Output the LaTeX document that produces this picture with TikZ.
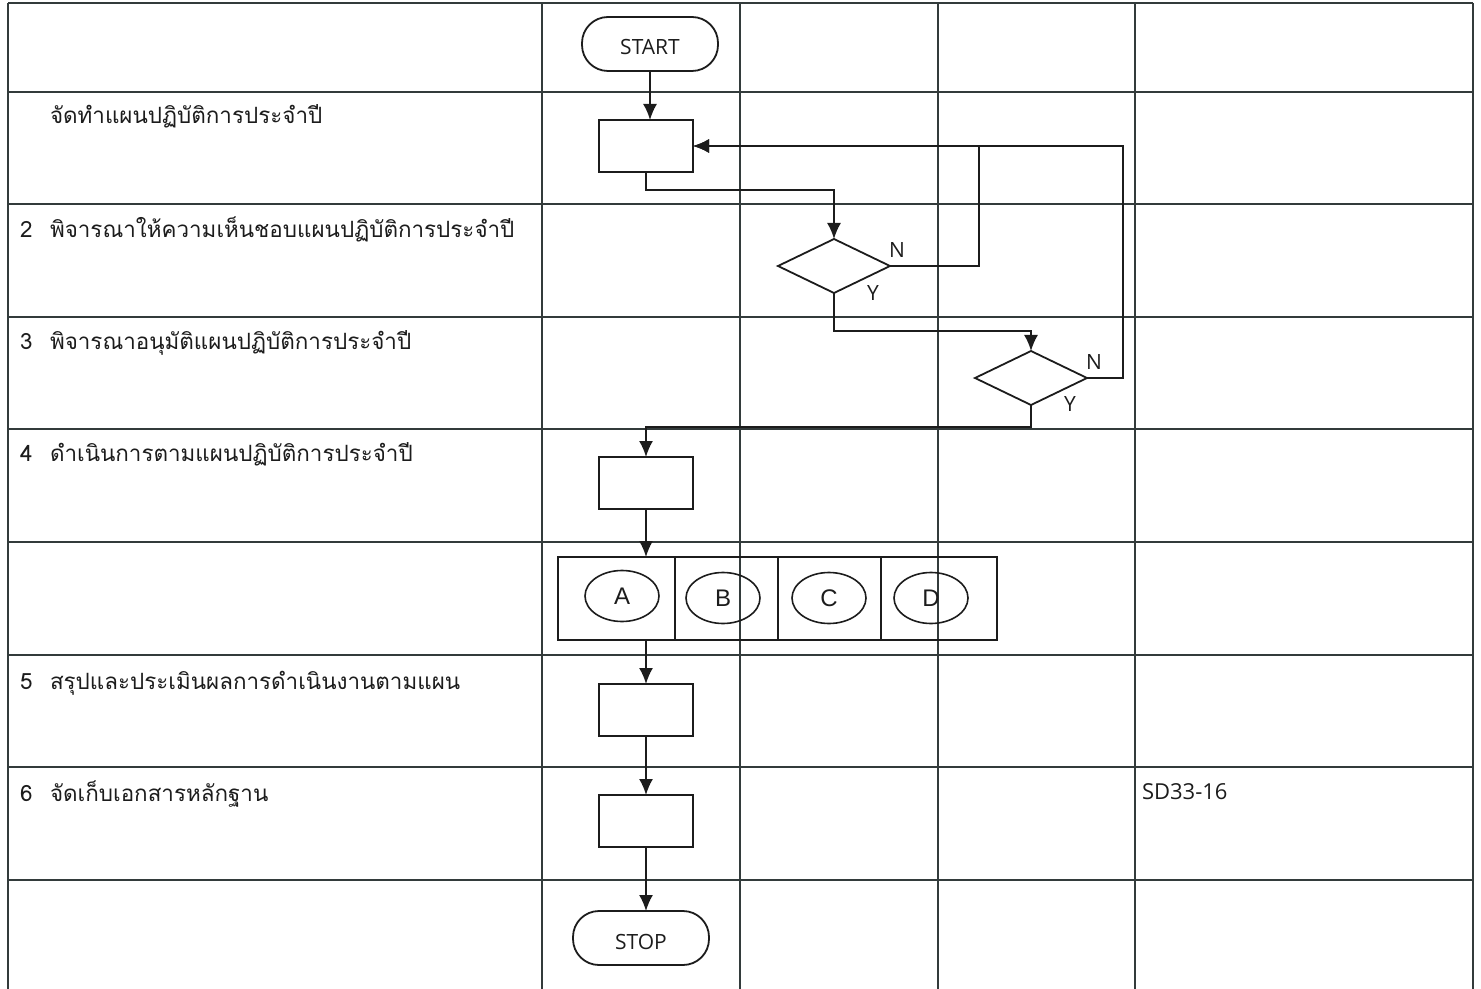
\documentclass[tikz,border=0pt]{standalone}
\usepackage{fontspec}
\setmainfont{Open Sans}
\newfontfamily\thaifont[Script=Thai]{Loma}
\newfontfamily\arialfont{Liberation Sans}
\usepackage{tikz}
\usetikzlibrary{arrows.meta,shapes.geometric}
\definecolor{inkgray}{HTML}{1C1C1C}
\definecolor{rulegray}{HTML}{333B3B}

\begin{document}
\begin{tikzpicture}[x=0.5pt, y=-0.5pt,
  every node/.style={inner sep=0pt, outer sep=0pt},
  proc/.style={draw=inkgray, line width=0.9pt, minimum width=47pt, minimum height=26pt},
  term/.style={draw=inkgray, line width=0.9pt, rounded corners=13pt, minimum width=68pt, minimum height=27pt, text height=11pt, text depth=0pt, font=\fontsize{10.5}{12}\selectfont, text=inkgray},
  decide/.style={draw=inkgray, line width=0.9pt, diamond, minimum width=56pt, minimum height=27pt},
  cell/.style={draw=inkgray, line width=0.9pt, minimum height=41.5pt},
  conn/.style={draw=inkgray, ellipse, line width=0.8pt, minimum width=37pt, minimum height=25.5pt, font=\arialfont\fontsize{12}{14}\selectfont, text=inkgray},
  steptext/.style={anchor=base west, font=\thaifont\fontsize{11.2}{13}\selectfont, text=inkgray},
  yn/.style={font=\fontsize{10.5}{12}\selectfont, text=inkgray},
  flow/.style={-{Latex[length=8pt,width=7pt]}, line width=0.9pt, draw=inkgray}]
\useasboundingbox (0,0) rectangle (1481,989);
% table frame
\draw[rulegray, line width=1.4pt] (8,3) -- (1473,3);
\draw[rulegray, line width=1pt] (8,3) -- (8,989);
\draw[rulegray, line width=1pt] (542,3) -- (542,989);
\draw[rulegray, line width=1pt] (740,3) -- (740,989);
\draw[rulegray, line width=1pt] (938,3) -- (938,989);
\draw[rulegray, line width=1pt] (1135,3) -- (1135,989);
\draw[rulegray, line width=1pt] (1473,3) -- (1473,989);
\draw[rulegray, line width=0.7pt] (8,92) -- (1473,92);
\draw[rulegray, line width=0.7pt] (8,204) -- (1473,204);
\draw[rulegray, line width=0.7pt] (8,317) -- (1473,317);
\draw[rulegray, line width=0.7pt] (8,429) -- (1473,429);
\draw[rulegray, line width=0.7pt] (8,542) -- (1473,542);
\draw[rulegray, line width=0.7pt] (8,655) -- (1473,655);
\draw[rulegray, line width=0.7pt] (8,767) -- (1473,767);
\draw[rulegray, line width=0.7pt] (8,880) -- (1473,880);

% steps
\node[steptext] (s1) at (50,124) {จัดทำแผนปฏิบัติการประจำปี};
\node[steptext] (n2) at (20,238) {2};
\node[steptext] (s2) at (50,238) {พิจารณาให้ความเห็นชอบแผนปฏิบัติการประจำปี};
\node[steptext] (n3) at (20,350) {3};
\node[steptext] (s3) at (50,350) {พิจารณาอนุมัติแผนปฏิบัติการประจำปี};
\node[steptext] (n4) at (20,461) {4};
\node[steptext] (s4) at (50,461) {ดำเนินการตามแผนปฏิบัติการประจำปี};
\node[steptext] (n5) at (20,689) {5};
\node[steptext] (s5) at (50,689) {สรุปและประเมินผลการดำเนินงานตามแผน};
\node[steptext] (n6) at (20,801) {6};
\node[steptext] (s6) at (50,801) {จัดเก็บเอกสารหลักฐาน};
\node[anchor=base west, font=\fontsize{11}{13}\selectfont, text=inkgray] (doc6) at (1142,799) {SD33-16};

% flow shapes
\node[term] (start) at (650,44) {START};
\node[proc] (plan) at (646,146) {};
\node[decide] (agree) at (834,266) {};
\node[decide] (approve) at (1031,378) {};
\node[proc] (doit) at (646,483) {};
\node[cell, minimum width=58.5pt] (cella) at (616.5,598.5) {};
\node[cell, minimum width=51.5pt] (cellb) at (726.5,598.5) {};
\node[cell, minimum width=51.5pt] (cellc) at (829.5,598.5) {};
\node[cell, minimum width=58pt] (celld) at (939,598.5) {};
\node[conn] (ca) at (622,596) {A};
\node[conn] (cb) at (723,598) {B};
\node[conn] (cc) at (829,598) {C};
\node[conn] (cd) at (931,598) {D};
\node[proc] (review) at (646,710) {};
\node[proc] (store) at (646,821) {};
\node[term] (stop) at (641,938) {STOP};
\node[yn] (agreen) at (897,250) {N};
\node[yn] (agreey) at (873,293) {Y};
\node[yn] (approven) at (1094,362) {N};
\node[yn] (approvey) at (1070,404) {Y};

\draw[flow] (start) -- (start |- plan.north);
\draw[flow] (plan.south) -- ++(0,18) -| (agree.north);
\draw[flow] (agree.east) -- ++(89,0) |- (plan.east);
\draw[flow] (approve.east) -- ++(36,0) |- (plan.east);
\draw[flow] (agree.south) -- ++(0,38) -| (approve.north);
\draw[flow] (approve.south) -- ++(0,22) -| (doit.north);
\draw[flow] (doit) -- (doit |- cella.north);
\draw[flow] (doit |- cella.south) -- (review);
\draw[flow] (review) -- (store);
\draw[flow] (store) -- (store |- stop.north);
\end{tikzpicture}
\end{document}
